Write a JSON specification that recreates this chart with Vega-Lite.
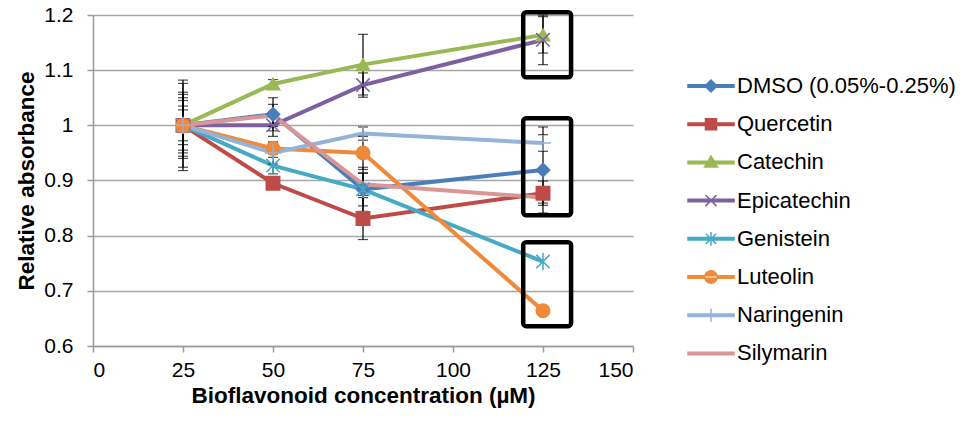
{
  "$schema": "https://vega.github.io/schema/vega-lite/v6.json",
  "width": 540,
  "height": 331,
  "autosize": {"type": "none"},
  "padding": {"left": 93, "top": 15, "right": 338, "bottom": 78},
  "background": "white",
  "config": {
    "font": "Liberation Sans",
    "view": {"stroke": null},
    "axis": {
      "labelFont": "Liberation Sans",
      "labelFontSize": 21,
      "labelColor": "#000000",
      "titleFont": "Liberation Sans",
      "titleFontSize": 22.5,
      "titleFontWeight": "bold",
      "titleColor": "#000000",
      "domainColor": "#9a9a9a",
      "domainWidth": 1.5,
      "tickColor": "#9a9a9a",
      "tickWidth": 1.5,
      "tickSize": 6,
      "gridColor": "#a6a6a6",
      "gridWidth": 1.5
    },
    "legend": {
      "labelFont": "Liberation Sans",
      "labelFontSize": 22,
      "labelColor": "#000000",
      "labelLimit": 400
    }
  },
  "data": {
    "values": [
      {"series": "DMSO (0.05%-0.25%)", "x": 25, "y": 1.0, "err": 0.082},
      {"series": "DMSO (0.05%-0.25%)", "x": 50, "y": 1.02, "err": 0.03},
      {"series": "DMSO (0.05%-0.25%)", "x": 75, "y": 0.884, "err": 0.04},
      {"series": "DMSO (0.05%-0.25%)", "x": 125, "y": 0.919, "err": 0.078},
      {"series": "Quercetin", "x": 25, "y": 1.0, "err": 0.076},
      {"series": "Quercetin", "x": 50, "y": 0.895, "err": 0.01},
      {"series": "Quercetin", "x": 75, "y": 0.831, "err": 0.038},
      {"series": "Quercetin", "x": 125, "y": 0.877, "err": 0.022},
      {"series": "Catechin", "x": 25, "y": 1.0, "err": 0.056},
      {"series": "Catechin", "x": 50, "y": 1.075, "err": 0.008},
      {"series": "Catechin", "x": 75, "y": 1.11, "err": 0.055},
      {"series": "Catechin", "x": 125, "y": 1.164, "err": 0.033},
      {"series": "Epicatechin", "x": 25, "y": 1.0, "err": 0.05},
      {"series": "Epicatechin", "x": 50, "y": 1.0, "err": 0.02},
      {"series": "Epicatechin", "x": 75, "y": 1.073, "err": 0.022},
      {"series": "Epicatechin", "x": 125, "y": 1.155, "err": 0.045},
      {"series": "Genistein", "x": 25, "y": 1.0, "err": 0.028},
      {"series": "Genistein", "x": 50, "y": 0.927, "err": 0.015},
      {"series": "Genistein", "x": 75, "y": 0.884, "err": 0.03},
      {"series": "Genistein", "x": 125, "y": 0.753, "err": 0},
      {"series": "Luteolin", "x": 25, "y": 1.0, "err": 0.035},
      {"series": "Luteolin", "x": 50, "y": 0.958, "err": 0.01},
      {"series": "Luteolin", "x": 75, "y": 0.95, "err": 0.03},
      {"series": "Luteolin", "x": 125, "y": 0.664, "err": 0},
      {"series": "Naringenin", "x": 25, "y": 1.0, "err": 0.045},
      {"series": "Naringenin", "x": 50, "y": 0.95, "err": 0.02},
      {"series": "Naringenin", "x": 75, "y": 0.985, "err": 0.012},
      {"series": "Naringenin", "x": 125, "y": 0.968, "err": 0.015},
      {"series": "Silymarin", "x": 25, "y": 1.0, "err": 0.06},
      {"series": "Silymarin", "x": 50, "y": 1.018, "err": 0.02},
      {"series": "Silymarin", "x": 75, "y": 0.893, "err": 0.02},
      {"series": "Silymarin", "x": 125, "y": 0.869, "err": 0.01}
    ]
  },
  "layer": [
    {
      "mark": {"type": "line", "strokeWidth": 4},
      "encoding": {
        "x": {
          "field": "x", "type": "quantitative",
          "scale": {"domain": [0, 150], "nice": false, "zero": false},
          "axis": {"values": [0, 25, 50, 75, 100, 125, 150], "grid": false, "labelPadding": 7, "titlePadding": 4},
          "title": "Bioflavonoid concentration (µM)"
        },
        "y": {
          "field": "y", "type": "quantitative",
          "scale": {"domain": [0.6, 1.2], "nice": false, "zero": false},
          "axis": {"values": [0.6, 0.7, 0.8, 0.9, 1.0, 1.1, 1.2], "grid": true, "format": "~g", "labelPadding": 14, "titlePadding": 5},
          "title": "Relative absorbance"
        },
        "color": {
          "field": "series", "type": "nominal",
          "scale": {
            "domain": ["DMSO (0.05%-0.25%)", "Quercetin", "Catechin", "Epicatechin", "Genistein", "Luteolin", "Naringenin", "Silymarin"],
            "range": ["#4A7EBB", "#BE4B48", "#98B954", "#7D60A0", "#46AAC5", "#EE8A3A", "#95B3D7", "#D99694"]
          },
          "legend": null
        }
      }
    },
    {
      "transform": [{"filter": "datum.err > 0"}],
      "mark": {"type": "errorbar", "color": "#000000", "thickness": 1.2, "ticks": {"size": 10, "color": "#000000", "thickness": 1.2}},
      "encoding": {
        "x": {"field": "x", "type": "quantitative", "title": "Bioflavonoid concentration (µM)"},
        "y": {"field": "y", "type": "quantitative", "title": "Relative absorbance"},
        "yError": {"field": "err"}
      }
    },
    {
      "transform": [{"filter": "datum.series !== 'Silymarin'"}],
      "mark": {"type": "point", "filled": true, "opacity": 1, "size": 180, "strokeWidth": 1.5},
      "encoding": {
        "x": {"field": "x", "type": "quantitative", "title": "Bioflavonoid concentration (µM)"},
        "y": {"field": "y", "type": "quantitative", "title": "Relative absorbance"},
        "color": {
          "field": "series", "type": "nominal",
          "scale": {
            "domain": ["DMSO (0.05%-0.25%)", "Quercetin", "Catechin", "Epicatechin", "Genistein", "Luteolin", "Naringenin"],
            "range": ["#4A7EBB", "#BE4B48", "#98B954", "#7D60A0", "#46AAC5", "#EE8A3A", "#95B3D7"]
          },
          "legend": null
        },
        "stroke": {
          "field": "series", "type": "nominal",
          "scale": {
            "domain": ["DMSO (0.05%-0.25%)", "Quercetin", "Catechin", "Epicatechin", "Genistein", "Luteolin", "Naringenin"],
            "range": ["#4A7EBB", "#BE4B48", "#98B954", "#7D60A0", "#46AAC5", "#EE8A3A", "#95B3D7"]
          },
          "legend": null
        },
        "shape": {
          "field": "series", "type": "nominal",
          "scale": {
            "domain": ["DMSO (0.05%-0.25%)", "Quercetin", "Catechin", "Epicatechin", "Genistein", "Luteolin", "Naringenin"],
            "range": ["diamond", "square", "triangle-up", "M-1,-1L1,1M-1,1L1,-1", "M-1,-1L1,1M-1,1L1,-1M0,-1.3L0,1.3", "circle", "M-1.2,0L1.2,0M0,-1.2L0,1.2"]
          },
          "legend": null
        }
      }
    },
    {
      "data": {
        "values": [
          {"x1": 119.5, "x2": 132.8, "y1": 1.087, "y2": 1.205},
          {"x1": 119.5, "x2": 132.8, "y1": 0.837, "y2": 1.013},
          {"x1": 119.5, "x2": 132.8, "y1": 0.636, "y2": 0.788}
        ]
      },
      "mark": {"type": "rect", "filled": false, "stroke": "#000000", "strokeWidth": 4.5, "cornerRadius": 3, "opacity": 1},
      "encoding": {
        "x": {"field": "x1", "type": "quantitative", "title": "Bioflavonoid concentration (µM)"},
        "x2": {"field": "x2"},
        "y": {"field": "y1", "type": "quantitative", "title": "Relative absorbance"},
        "y2": {"field": "y2"}
      }
    },
    {
      "data": {"values": []},
      "mark": {"type": "point", "filled": true, "opacity": 1, "strokeWidth": 1.5},
      "encoding": {
        "color": {
          "field": "series", "type": "nominal",
          "scale": {
            "domain": ["DMSO (0.05%-0.25%)", "Quercetin", "Catechin", "Epicatechin", "Genistein", "Luteolin", "Naringenin", "Silymarin"],
            "range": ["#4A7EBB", "#BE4B48", "#98B954", "#7D60A0", "#46AAC5", "#EE8A3A", "#95B3D7", "#D99694"]
          },
          "legend": {"orient": "none", "legendX": 594, "legendY": 47, "title": null, "symbolSize": 2116, "labelOffset": 2, "rowPadding": 3.2, "symbolStrokeWidth": 1.5}
        },
        "stroke": {
          "field": "series", "type": "nominal",
          "scale": {
            "domain": ["DMSO (0.05%-0.25%)", "Quercetin", "Catechin", "Epicatechin", "Genistein", "Luteolin", "Naringenin", "Silymarin"],
            "range": ["#4A7EBB", "#BE4B48", "#98B954", "#7D60A0", "#46AAC5", "#EE8A3A", "#95B3D7", "#D99694"]
          },
          "legend": {"orient": "none", "legendX": 594, "legendY": 47, "title": null, "symbolSize": 2116, "labelOffset": 2, "rowPadding": 3.2, "symbolStrokeWidth": 1.5}
        },
        "shape": {
          "field": "series", "type": "nominal",
          "scale": {
            "domain": ["DMSO (0.05%-0.25%)", "Quercetin", "Catechin", "Epicatechin", "Genistein", "Luteolin", "Naringenin", "Silymarin"],
            "range": [
              "M-1,-0.055H1V0.055H-1Z M0,-0.26L0.26,0L0,0.26L-0.26,0Z",
              "M-1,-0.055H1V0.055H-1Z M-0.24,-0.24H0.24V0.24H-0.24Z",
              "M-1,-0.055H1V0.055H-1Z M0,-0.28L0.28,0.2H-0.28Z",
              "M-1,-0.055H1V0.055H-1Z M-0.24,-0.24L0.24,0.24M-0.24,0.24L0.24,-0.24",
              "M-1,-0.055H1V0.055H-1Z M-0.22,-0.22L0.22,0.22M-0.22,0.22L0.22,-0.22M0,-0.3V0.3",
              "M-1,-0.055H1V0.055H-1Z M-0.27,0A0.27,0.27,0,1,0,0.27,0A0.27,0.27,0,1,0,-0.27,0Z",
              "M-1,-0.055H1V0.055H-1Z M0,-0.28V0.28",
              "M-1,-0.055H1V0.055H-1Z"
            ]
          },
          "legend": {"orient": "none", "legendX": 594, "legendY": 47, "title": null, "symbolSize": 2116, "labelOffset": 2, "rowPadding": 3.2, "symbolStrokeWidth": 1.5}
        }
      }
    }
  ],
  "resolve": {"scale": {"color": "independent", "stroke": "independent", "shape": "independent"}}
}
